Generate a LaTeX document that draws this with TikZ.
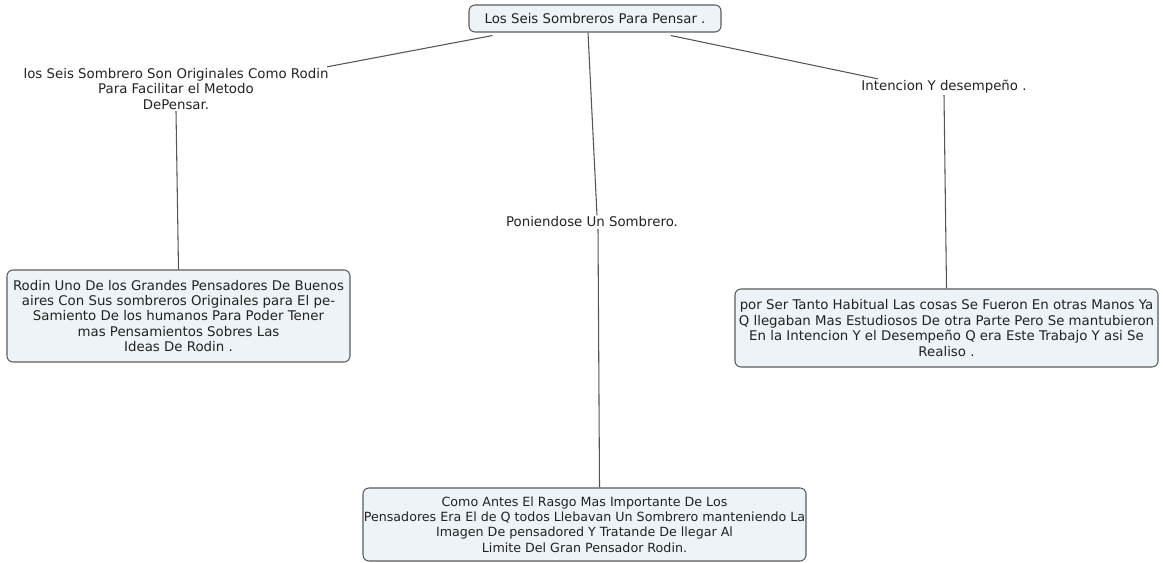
\documentclass[tikz,border=0pt]{standalone}
\usepackage{fontspec}
\setmainfont{DejaVu Sans}
\definecolor{boxfill}{HTML}{EDF3F6}
\definecolor{boxline}{HTML}{5A5A5A}
\definecolor{linkline}{HTML}{555555}
\definecolor{txt}{HTML}{222222}
\begin{document}
\begin{tikzpicture}[x=0.75pt,y=-0.75pt,
  concept/.style={draw=boxline,line width=0.8pt,fill=boxfill,rounded corners=4.5pt,
    align=center,inner sep=0pt,text=txt,font=\fontsize{10}{11.6}\selectfont},
  phrase/.style={align=center,inner sep=1pt,text=txt,font=\fontsize{10}{11.6}\selectfont},
  link/.style={draw=linkline,line width=0.8pt}]
\useasboundingbox (0,0) rectangle (1163,563);
\node[concept,minimum width=189pt,minimum height=20.25pt] (top) at (595,18.5) {Los Seis Sombreros Para Pensar .};
\node[phrase] (llab) at (176,89) {los Seis Sombrero Son Originales Como Rodin\\Para Facilitar el Metodo\\DePensar.};
\node[phrase] (mlab) at (592,222) {Poniendose Un Sombrero.};
\node[phrase] (rlab) at (944,87) {Intencion Y desempeño .};
\node[concept,minimum width=257.25pt,minimum height=69pt] (lbox) at (178.5,316) {Rodin Uno De los Grandes Pensadores De Buenos\\aires Con Sus sombreros Originales para El pe-\\Samiento De los humanos Para Poder Tener\\mas Pensamientos Sobres Las\\Ideas De Rodin .};
\node[concept,minimum width=317.25pt,minimum height=58.5pt] (rbox) at (946.5,328) {por Ser Tanto Habitual Las cosas Se Fueron En otras Manos Ya\\Q llegaban Mas Estudiosos De otra Parte Pero Se mantubieron\\En la Intencion Y el Desempeño Q era Este Trabajo Y asi Se\\Realiso .};
\node[concept,minimum width=332.25pt,minimum height=54.75pt,font=\fontsize{9.5}{11.6}\selectfont] (bot) at (584.5,524.5) {Como Antes El Rasgo Mas Importante De Los\\Pensadores Era El de Q todos Llebavan Un Sombrero manteniendo La\\Imagen De pensadored Y Tratande De llegar Al\\Limite Del Gran Pensador Rodin.};
\draw[link] ([xshift=18pt,yshift=-2.25pt]top.south west) -- ([xshift=-2pt]llab.north east);
\draw[link] ([xshift=-5.25pt]top.south) -- ([xshift=3.75pt]mlab.north);
\draw[link] ([xshift=-38pt,yshift=-2.25pt]top.south east) -- ([xshift=13.5pt]rlab.north west);
\draw[link] (llab.south) -- (lbox.north);
\draw[link] ([xshift=4.5pt]mlab.south) -- ([xshift=11.25pt]bot.north);
\draw[link] (rlab.south) -- (rbox.north);
\end{tikzpicture}
\end{document}
